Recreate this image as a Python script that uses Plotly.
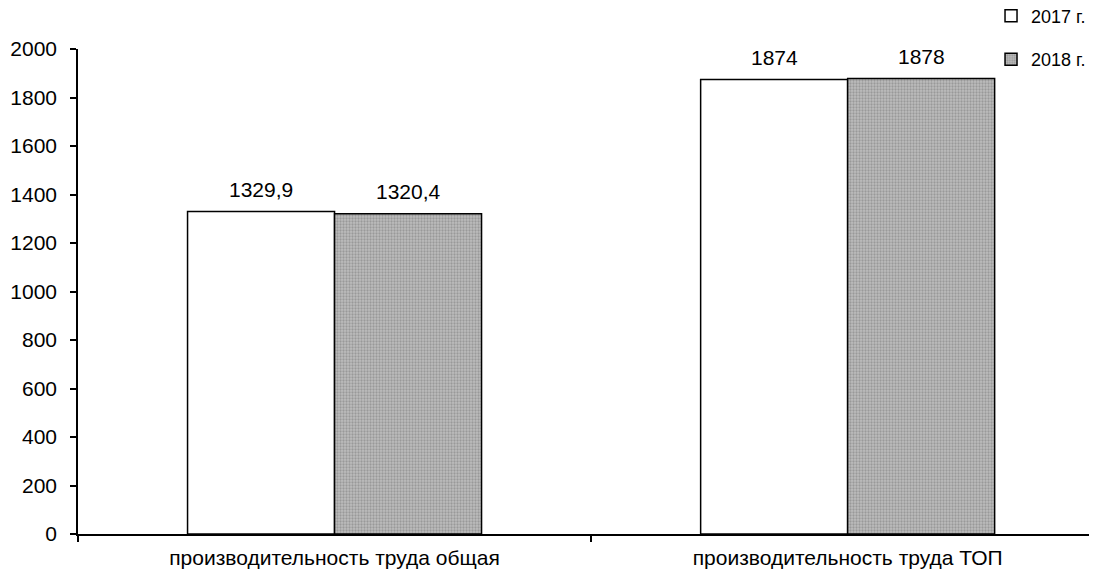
import plotly.graph_objects as go

categories = ["производительность труда общая", "производительность труда ТОП"]
values_2017 = [1329.9, 1874]
values_2018 = [1320.4, 1878]
labels_2017 = ["1329,9", "1874"]
labels_2018 = ["1320,4", "1878"]
series_names = ["2017 г.", "2018 г."]
y_ticks = [0, 200, 400, 600, 800, 1000, 1200, 1400, 1600, 1800, 2000]

FONT = "Liberation Sans, Arial, sans-serif"

# layout geometry (page has an 8px body margin)
W, H = 1089, 566
ML, MT, MB, MR = 70, 41, 40, 0
X_RANGE = [-0.5, 1.486]
BARGAP = 0.427
plot_w = W - ML - MR
px_per_cat = plot_w / (X_RANGE[1] - X_RANGE[0])
bar_w_px = px_per_cat * (1 - BARGAP) / 2

fig = go.Figure()
fig.add_trace(go.Bar(
    x=categories, y=values_2017, name=series_names[0],
    marker=dict(color="white", line=dict(color="black", width=1.5)),
    legendgroup="a",
))
fig.add_trace(go.Bar(
    x=categories, y=values_2018, name=series_names[1],
    marker=dict(color="#b0b0b0", line=dict(color="black", width=1.5),
                pattern=dict(shape=".", fgcolor="#767676", bgcolor="#bdbdbd",
                             size=3, solidity=0.45, fillmode="overlay")),
    legendgroup="b",
))

annotations = []
for cat, v, t in zip(categories, values_2017, labels_2017):
    annotations.append(dict(x=cat, y=v, text=t, xref="x", yref="y", showarrow=False,
                            yanchor="bottom", xshift=-bar_w_px / 2, yshift=9,
                            font=dict(size=21, family=FONT, color="black")))
for cat, v, t in zip(categories, values_2018, labels_2018):
    annotations.append(dict(x=cat, y=v, text=t, xref="x", yref="y", showarrow=False,
                            yanchor="bottom", xshift=bar_w_px / 2, yshift=9,
                            font=dict(size=21, family=FONT, color="black")))

fig.update_layout(
    width=W, height=H,
    paper_bgcolor="white", plot_bgcolor="white",
    margin=dict(l=ML, r=MR, t=MT, b=MB, autoexpand=False),
    barmode="group", bargap=BARGAP, bargroupgap=0,
    font=dict(family=FONT, size=20, color="black"),
    annotations=annotations,
    showlegend=True,
    legend=dict(x=0.896, xanchor="left", y=1.106, yanchor="top",
                tracegroupgap=17,
                font=dict(size=18, family=FONT),
                itemwidth=30, bgcolor="rgba(0,0,0,0)"),
    xaxis=dict(range=X_RANGE, showline=True, linecolor="black", linewidth=1.5,
               ticks="outside", tickson="boundaries", ticklen=6, tickcolor="black",
               tickwidth=1.5, showgrid=False, tickfont=dict(size=21), automargin=False,
               ticklabelstandoff=4),
    yaxis=dict(range=[0, 2000], tickvals=y_ticks, showline=True, linecolor="black",
               linewidth=1.5, ticks="outside", ticklen=6, tickcolor="black",
               tickwidth=1.5, showgrid=False, zeroline=False, automargin=False,
               ticklabelstandoff=9, tickfont=dict(size=21)),
)

fig.write_html("out.html")
